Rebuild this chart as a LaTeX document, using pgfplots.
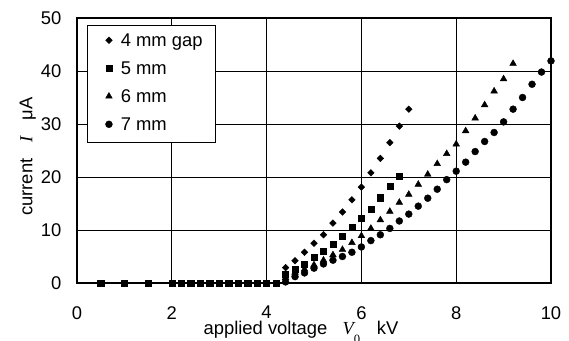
\documentclass[border=0pt]{standalone}
\usepackage{fontspec}
\setmainfont{Liberation Sans}
\newfontfamily\serif{Liberation Serif}
\usepackage{pgfplots}
\pgfplotsset{compat=1.18}
\pgfplotsset{mymark/.style={only marks, legend image code/.code={\path (-5.5pt,-4pt) (5.5pt,4pt); \draw[##1] plot coordinates {(0pt,1.4pt)};}}}
\begin{document}
\fontsize{13.8}{16}\selectfont
\begin{tikzpicture}
\begin{axis}[
 at={(0,0)}, anchor=south west,
 scale only axis, width=355.5pt, height=198.75pt,
 xmin=0, xmax=10, ymin=0, ymax=50,
 xtick={0,2,...,10}, ytick={0,10,...,50},
 grid=major, major grid style={black, line width=0.75pt},
 axis line style={black, line width=0.9pt},
 major tick length=0pt,
 tick label style={inner sep=0pt},
 /pgf/number format/assume math mode=true,
 xticklabel shift=17.25pt, yticklabel shift=11.5pt,
 clip=false,
 xlabel={applied voltage\hspace{11.5pt}{\serif\itshape V}\raisebox{-7pt}{\fontsize{9.5}{10}\selectfont\serif 0}\hspace{12.5pt}kV},
 xlabel style={at={(axis description cs:0.4726,0)}, anchor=base, yshift=-38.5pt, inner sep=0pt},
 ylabel={current\hspace{12pt}{\serif\itshape I}\hspace{12pt}μA},
 ylabel style={at={(axis description cs:0,0.4766)}, anchor=base, yshift=33.5pt, inner sep=0pt},
 legend style={at={(axis description cs:0.0217,0.9736)}, anchor=north west, draw=black, line width=0.75pt, fill=white, inner xsep=10pt, inner ysep=6pt, row sep=8pt, column sep=3pt, nodes={inner sep=0pt, text height=10pt, text depth=3pt}},
 legend cell align=left,
]
\addplot[mymark, black, mark=diamond*, mark size=2.5pt, mark options={xscale=1.33, fill=black, line width=0.3pt}] coordinates {
(4.4,2.9) (4.6,4.2) (4.8,5.8) (5.0,7.5) (5.2,9.1) (5.4,11.3) (5.6,13.4) (5.8,15.7) (6.0,18.1) (6.2,20.8) (6.4,23.5) (6.6,26.5) (6.8,29.6) (7.0,32.8)};
\addlegendentry{4 mm gap}
\addplot[mymark, black, mark=square*, mark size=2.3pt, mark options={fill=black, line width=0.3pt}] coordinates {
(0.5,0) (1.0,0) (1.5,0) (2.0,0) (2.2,0) (2.4,0) (2.6,0) (2.8,0) (3.0,0) (3.2,0) (3.4,0) (3.6,0) (3.8,0) (4.0,0) (4.2,0)
(4.4,1.7) (4.6,2.6) (4.8,3.6) (5.0,4.8) (5.2,6.0) (5.4,7.4) (5.6,8.9) (5.8,10.5) (6.0,12.2) (6.2,14.0) (6.4,16.1) (6.6,18.2) (6.8,20.2)};
\addlegendentry{5 mm}
\addplot[mymark, black, mark=triangle*, mark size=2.9pt, mark options={fill=black, line width=0.3pt}] coordinates {
(4.4,1.0) (4.6,2.0) (4.8,2.6) (5.0,3.4) (5.2,4.3) (5.4,5.3) (5.6,6.3) (5.8,7.6) (6.0,8.9) (6.2,10.3) (6.4,11.9) (6.6,13.5) (6.8,15.2) (7.0,16.7) (7.2,18.6) (7.4,20.5) (7.6,22.5) (7.8,24.4) (8.0,26.2) (8.2,28.7) (8.4,31.1) (8.6,33.6) (8.8,36.2) (9.0,38.5) (9.2,41.4)};
\addlegendentry{6 mm}
\addplot[mymark, black, mark=*, mark size=2.6pt, mark options={fill=black, line width=0.3pt}] coordinates {
(4.4,0.2) (4.6,1.2) (4.8,1.9) (5.0,2.8) (5.2,3.6) (5.4,4.3) (5.6,5.0) (5.8,5.8) (6.0,6.8) (6.2,8.0) (6.4,9.1) (6.6,10.3) (6.8,11.7) (7.0,13.0) (7.2,14.5) (7.4,16.0) (7.6,17.7) (7.8,19.5) (8.0,21.1) (8.2,22.8) (8.4,24.8) (8.6,26.7) (8.8,28.4) (9.0,30.4) (9.2,32.8) (9.4,35.0) (9.6,37.5) (9.8,39.8) (10.0,41.9)};
\addlegendentry{7 mm}
\end{axis}
\pgfresetboundingbox
\path[use as bounding box] (-57.75pt,-42.75pt) rectangle (369pt,212.25pt);
\end{tikzpicture}
\end{document}
